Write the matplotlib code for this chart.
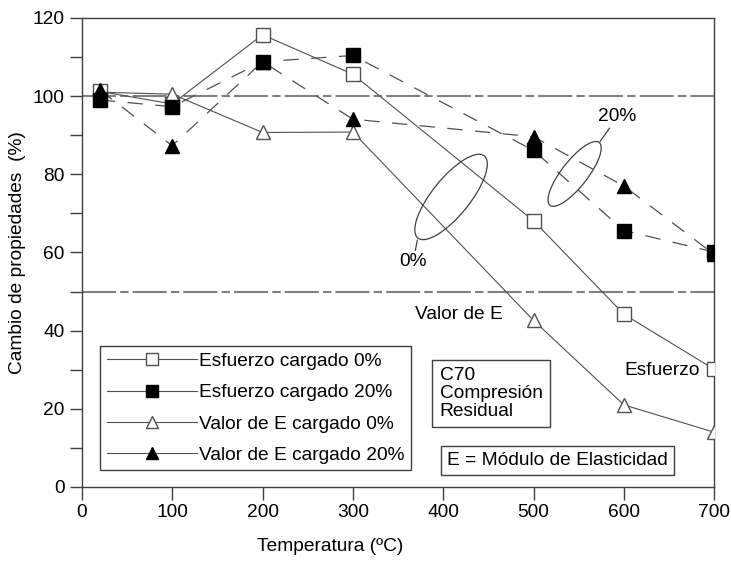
import matplotlib
matplotlib.use('Agg')
import matplotlib.pyplot as plt
from matplotlib.lines import Line2D
from matplotlib.patches import Ellipse
from matplotlib.transforms import Affine2D, ScaledTranslation

plt.rcParams['font.family'] = ['Liberation Sans', 'DejaVu Sans']
plt.rcParams['lines.scale_dashes'] = False

# temperatures (ºC) and property change (%)
temps = [20, 100, 200, 300, 500, 600, 700]
esf_0 = [101.2, 98.0, 115.7, 105.6, 68.1, 44.2, 30.1]
esf_20 = [99.0, 97.3, 108.8, 110.4, 86.1, 65.6, 60.1]
e_0 = [101.0, 100.5, 90.7, 90.8, 42.6, 21.0, 14.0]
e_20 = [101.6, 87.3, 108.8, 94.1, 89.6, 77.0, 59.5]

labels = ['Esfuerzo cargado 0%', 'Esfuerzo cargado 20%',
          'Valor de E cargado 0%', 'Valor de E cargado 20%']

fs = 13.8
line_col = '#505050'
open_edge = '#505050'
dash = (0, (11, 9))

fig = plt.figure(figsize=(7.31, 5.61), dpi=100)
ax = fig.add_axes([0.112, 0.132, 0.865, 0.836])

# reference levels at 100 % and 50 %
for lvl in (100, 50):
    ax.axhline(lvl, color='#808080', lw=1.5, ls=(0, (24.5, 3, 6, 3)), zorder=1)

ax.plot(temps, esf_0, color=line_col, lw=0.8, marker='s', ms=10,
        mfc='white', mec=open_edge, mew=1, zorder=3)
ax.plot(temps, e_0, color=line_col, lw=0.8, marker='^', ms=10,
        mfc='white', mec=open_edge, mew=1, zorder=3)
ax.plot(temps, e_20, color=line_col, lw=0.9, ls=dash, marker='^', ms=10,
        mfc='black', mec='black', zorder=4)
ax.plot(temps, esf_20, color=line_col, lw=0.9, ls=dash, marker='s', ms=10,
        mfc='black', mec='black', zorder=5)


def ring(x, y, w, h, angle):
    # ellipse sized in points, centred on a data position
    tr = Affine2D().scale(fig.dpi / 72) + ScaledTranslation(x, y, ax.transData)
    ax.add_patch(Ellipse((0, 0), w, h, angle=angle, transform=tr,
                         fill=False, ec='#404040', lw=0.9, zorder=6))


ring(408.7, 74.2, 76, 27, 51)
ring(545.5, 80.1, 57.5, 18.7, 52)

ax.annotate('0%', xy=(371.5, 63.2), xytext=(366.5, 57.6), fontsize=fs,
            ha='center', va='center',
            arrowprops=dict(arrowstyle='-', color='#404040', lw=0.9,
                            shrinkA=0, shrinkB=0))
ax.annotate('20%', xy=(573.7, 88.4), xytext=(593, 94.7), fontsize=fs,
            ha='center', va='center',
            arrowprops=dict(arrowstyle='-', color='#404040', lw=0.9,
                            shrinkA=0, shrinkB=0))

ax.text(368.8, 44.0, 'Valor de E', fontsize=fs, ha='left', va='center')
ax.text(600.3, 29.7, 'Esfuerzo', fontsize=fs, ha='left', va='center')

box = dict(boxstyle='square,pad=0.4', fc='white', ec='#404040', lw=1)
ax.text(453, 23.9, 'C70\nCompresión\nResidual', fontsize=fs, ha='center',
        va='center', multialignment='left', linespacing=1.05, bbox=box)
ax.text(526.6, 6.8, 'E = Módulo de Elasticidad', fontsize=fs, ha='center',
        va='center', bbox=dict(boxstyle='square,pad=0.32', fc='white',
                               ec='#404040', lw=1))

handles = [
    Line2D([], [], color=line_col, lw=0.8, marker='s', ms=8,
           mfc='white', mec=open_edge),
    Line2D([], [], color=line_col, lw=0.8, marker='s', ms=8,
           mfc='black', mec='black'),
    Line2D([], [], color=line_col, lw=0.8, marker='^', ms=8,
           mfc='white', mec=open_edge),
    Line2D([], [], color=line_col, lw=0.8, marker='^', ms=8,
           mfc='black', mec='black'),
]
leg = ax.legend(handles, labels, loc='upper left',
                bbox_to_anchor=(0.0285, 0.3006), borderaxespad=0,
                fontsize=fs, handlelength=4.7, handletextpad=0.1,
                labelspacing=0.72, borderpad=0.35, fancybox=False,
                framealpha=1, edgecolor='#404040')
leg.get_frame().set_linewidth(1)

ax.set_xlim(0, 700)
ax.set_ylim(0, 120)
ax.set_xticks(range(0, 701, 100))
ax.set_yticks(range(0, 121, 20))
ax.set_yticks(range(10, 120, 20), minor=True)
ax.tick_params(axis='both', which='both', direction='out', length=9,
               width=1, color='#404040', labelsize=fs, top=False, right=False)
for sp in ax.spines.values():
    sp.set_color('#404040')
    sp.set_linewidth(1)

ax.set_xlabel('Temperatura (ºC)', fontsize=fs, labelpad=12)
ax.xaxis.label.set_x(0.392)
ax.set_ylabel('Cambio de propiedades  (%)', fontsize=fs, labelpad=5)

fig.savefig('out.png', dpi=100)
